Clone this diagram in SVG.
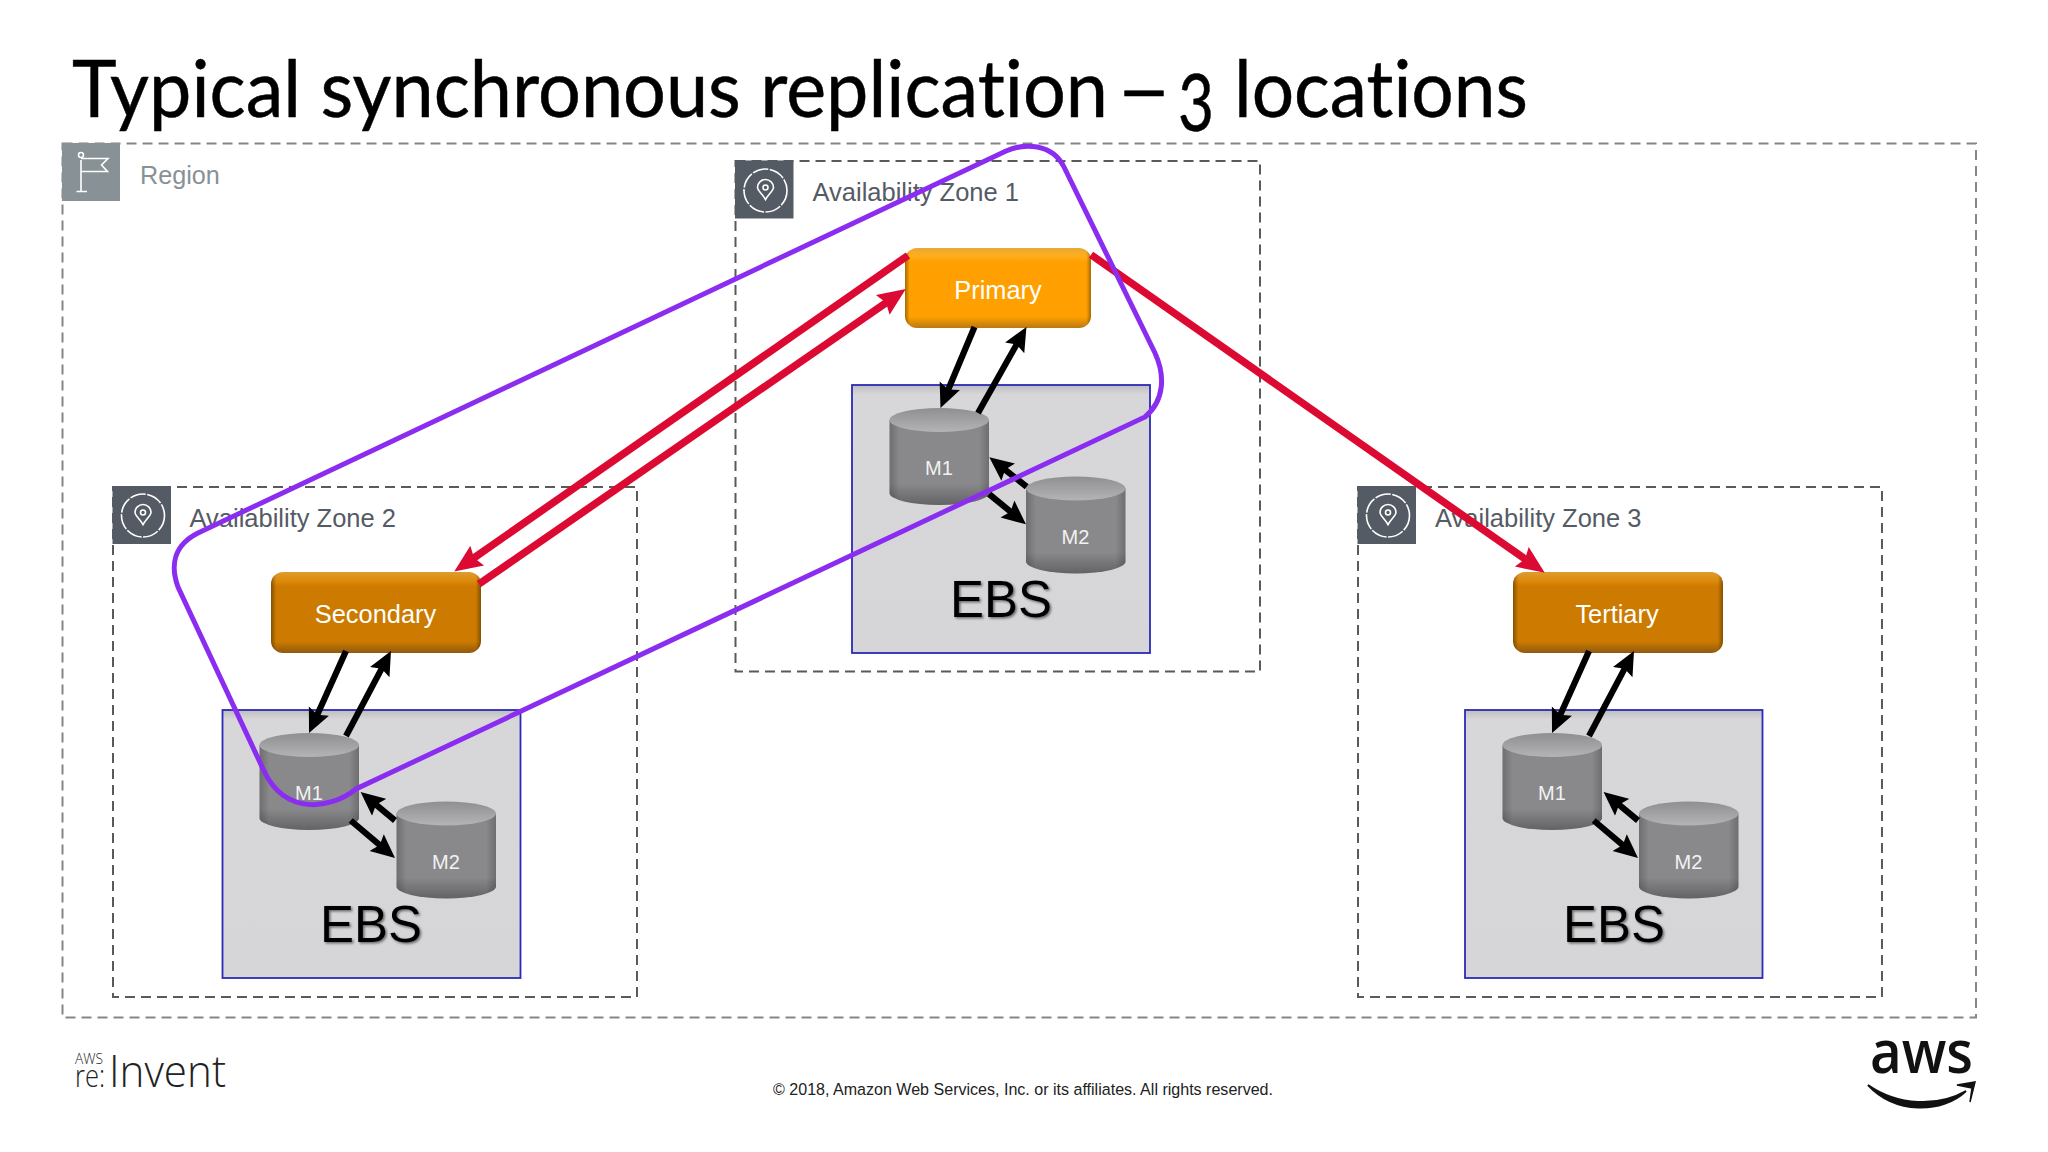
<svg xmlns="http://www.w3.org/2000/svg" xmlns:xlink="http://www.w3.org/1999/xlink" width="2048" height="1152" viewBox="0 0 2048 1152">
<style>
text{font-family:"Liberation Sans",Arial,sans-serif}
.title{font-family:Lato,"Open Sans",sans-serif;font-size:80px;fill:#000;stroke:#000;stroke-width:.5;font-variant-ligatures:none}
.region{fill:none;stroke:#868686;stroke-width:2;stroke-dasharray:10 6}
.zone{fill:none;stroke:#5a5a5a;stroke-width:2;stroke-dasharray:10 6}
.ico{fill:none;stroke:#fff;stroke-width:1.6}
.rlabel{font-size:25.2px;fill:#879196}
.zlabel{font-size:25.5px;fill:#555b64}
.btn{font-size:25.4px;fill:#fff;text-anchor:middle}
.m{font-size:20px;fill:#f2f2f2;text-anchor:middle}
.ebs{font-size:51px;fill:#000;text-anchor:middle;filter:url(#sh)}
.box{fill:url(#boxg);stroke:#2a2ab8;stroke-width:1.8}
.blk{fill:none;stroke:#000;stroke-width:6.2;marker-end:url(#ab)}
.red{fill:none;stroke:#dc0a32;stroke-width:7.5;marker-end:url(#ar)}
.loop{fill:none;stroke:#8a2df0;stroke-width:5}
.logo{font-family:"Open Sans",Lato,sans-serif;fill:#222;font-weight:300}
</style>
<defs>
<filter id="sh" x="-10%" y="-10%" width="125%" height="130%"><feDropShadow dx="1.5" dy="1.5" stdDeviation="1.2" flood-color="#444" flood-opacity=".75"/></filter>
<marker id="ab" markerUnits="userSpaceOnUse" markerWidth="26" markerHeight="24" refX="8" refY="12" orient="auto"><path d="M0 1L24 12L0 23L4 12Z" fill="#000"/></marker>
<marker id="ar" markerUnits="userSpaceOnUse" markerWidth="30" markerHeight="28" refX="10" refY="14" orient="auto"><path d="M0 2L28 14L0 26L4 14Z" fill="#dc0a32"/></marker>
<linearGradient id="boxg" x1="0" y1="0" x2="0" y2="1"><stop offset="0" stop-color="#bdbdbe"/><stop offset=".035" stop-color="#d7d7da"/><stop offset="1" stop-color="#d6d6d9"/></linearGradient>
<linearGradient id="cylb" x1="0" y1="0" x2="1" y2="0"><stop offset="0" stop-color="#6e6e70"/><stop offset=".1" stop-color="#89898c"/><stop offset=".9" stop-color="#89898c"/><stop offset="1" stop-color="#6e6e70"/></linearGradient>
<linearGradient id="cylt" x1="0" y1="0" x2="0" y2="1"><stop offset="0" stop-color="#8f8f91"/><stop offset="1" stop-color="#b4b4b6"/></linearGradient>
<linearGradient id="cyls" x1="0" y1="0" x2="0" y2="1"><stop offset=".75" stop-color="#000" stop-opacity="0"/><stop offset="1" stop-color="#000" stop-opacity=".28"/></linearGradient>
<linearGradient id="gp" x1="0" y1="0" x2="0" y2="1"><stop offset="0" stop-color="#e8a838"/><stop offset=".1" stop-color="#ffae1a"/><stop offset=".18" stop-color="#ffa000"/><stop offset=".86" stop-color="#ffa000"/><stop offset="1" stop-color="#b97a10"/></linearGradient>
<linearGradient id="gs" x1="0" y1="0" x2="0" y2="1"><stop offset="0" stop-color="#dc9c30"/><stop offset=".1" stop-color="#df8c0c"/><stop offset=".18" stop-color="#cc7a00"/><stop offset=".86" stop-color="#cc7a00"/><stop offset="1" stop-color="#8f5a10"/></linearGradient>
<linearGradient id="ge" x1="0" y1="0" x2="1" y2="0"><stop offset="0" stop-color="#000" stop-opacity=".35"/><stop offset=".025" stop-color="#000" stop-opacity="0"/><stop offset=".975" stop-color="#000" stop-opacity="0"/><stop offset="1" stop-color="#000" stop-opacity=".35"/></linearGradient>
<g id="cyl">
<path d="M0 12V85A49.75 12 0 0 0 99.5 85V12Z" fill="url(#cylb)"/>
<path d="M0 12V85A49.75 12 0 0 0 99.5 85V12Z" fill="url(#cyls)"/>
<ellipse cx="49.75" cy="12" rx="49.75" ry="12" fill="url(#cylt)"/>
</g>
<g id="pin" class="ico">
<circle r="21.500" stroke-dasharray="16 1.5"/>
<path d="M0 9C-3 3.500 -8 0 -8 -3A8 8 0 0 1 8 -3C8 0 3 3.500 0 9Z"/>
<circle cy="-3" r="2.500"/>
</g>
</defs>
<rect width="2048" height="1152" fill="#fff"/>
<text class="title"><tspan x="72" y="117" textLength="1036" lengthAdjust="spacingAndGlyphs">Typical synchronous replication</tspan><tspan x="1116" y="117" textLength="56" lengthAdjust="spacingAndGlyphs">–</tspan><tspan x="1178" y="131" textLength="36" lengthAdjust="spacingAndGlyphs">3</tspan><tspan x="1234" y="117" textLength="294" lengthAdjust="spacingAndGlyphs">locations</tspan></text>

<g id="region">
<rect class="region" x="62.500" y="143.500" width="1913.500" height="874"/>
<rect x="62" y="143" width="58" height="58" fill="#879196"/>
<g class="ico"><path d="M81 160V191M76.500 191.500H87M81 158.500H108L101.500 165L107.500 171.500H81"/><circle cx="81" cy="155" r="2.500"/></g>
<text class="rlabel" x="140" y="184">Region</text>
</g>

<g id="zone1">
<rect class="zone" x="735.500" y="161" width="524.500" height="510.500"/>
<rect x="735" y="160.500" width="58.500" height="58" fill="#555b64"/>
<use href="#pin" x="765.500" y="190.500"/>
<text class="zlabel" x="812.500" y="201">Availability Zone 1</text>
</g>
<g id="zone2">
<rect class="zone" x="113" y="487" width="524" height="510"/>
<rect x="112.500" y="486" width="58.500" height="58" fill="#555b64"/>
<use href="#pin" x="143" y="515.500"/>
<text class="zlabel" x="189.500" y="527">Availability Zone 2</text>
</g>
<g id="zone3">
<rect class="zone" x="1358" y="487" width="524" height="510"/>
<rect x="1357.500" y="486" width="58.500" height="58" fill="#555b64"/>
<use href="#pin" x="1388" y="515.500"/>
<text class="zlabel" x="1435" y="527">Availability Zone 3</text>
</g>

<g id="ebs1">
<rect class="box" x="852" y="385" width="298" height="268"/>
<text class="ebs" x="1001" y="616.500">EBS</text>
</g>
<g id="ebs2">
<rect class="box" x="222.500" y="710" width="298" height="268"/>
<text class="ebs" x="371" y="941.500">EBS</text>
</g>
<g id="ebs3">
<rect class="box" x="1465" y="710" width="297.500" height="268"/>
<text class="ebs" x="1614" y="941.500">EBS</text>
</g>

<g id="m1a"><use href="#cyl" x="889.500" y="408"/><text class="m" x="939" y="475">M1</text></g>
<g id="m2a"><use href="#cyl" x="1026" y="476.500"/><text class="m" x="1075.500" y="544">M2</text></g>
<g id="m1b"><use href="#cyl" x="259.500" y="733"/><text class="m" x="309" y="800">M1</text></g>
<g id="m2b"><use href="#cyl" x="396.500" y="801.500"/><text class="m" x="446" y="869">M2</text></g>
<g id="m1c"><use href="#cyl" x="1502.500" y="733"/><text class="m" x="1552" y="800">M1</text></g>
<g id="m2c"><use href="#cyl" x="1639" y="801.500"/><text class="m" x="1688.500" y="869">M2</text></g>

<g id="primary"><rect x="905" y="248" width="186" height="80" rx="12" fill="url(#gp)"/><rect x="905" y="248" width="186" height="80" rx="12" fill="url(#ge)"/><text class="btn" x="998" y="298.500">Primary</text></g>
<g id="secondary"><rect x="271" y="572" width="210" height="81" rx="12" fill="url(#gs)"/><rect x="271" y="572" width="210" height="81" rx="12" fill="url(#ge)"/><text class="btn" x="375.500" y="623">Secondary</text></g>
<g id="tertiary"><rect x="1513" y="572" width="210" height="81" rx="12" fill="url(#gs)"/><rect x="1513" y="572" width="210" height="81" rx="12" fill="url(#ge)"/><text class="btn" x="1617" y="623">Tertiary</text></g>

<g id="connectors">
<path class="blk" d="M974.500 327L946.700 393.200"/><path class="blk" d="M978 413L1018.600 340.900"/>
<path class="blk" d="M1026.700 486.700L1001.900 467.200"/><path class="blk" d="M989 494L1013.600 514.200"/>
<g id="conn2">
<path class="blk" d="M346 651L315.600 718.400"/><path class="blk" d="M346 736L383.500 665.100"/>
<path class="blk" d="M395 820.500L372.900 802.200"/><path class="blk" d="M350.700 820.500L382.800 847.700"/>
</g>
<g id="conn3" transform="translate(1243 0)">
<path class="blk" d="M346 651L315.600 718.400"/><path class="blk" d="M346 736L383.500 665.100"/>
<path class="blk" d="M395 820.500L372.900 802.200"/><path class="blk" d="M350.700 820.500L382.800 847.700"/>
</g>
<path class="red" d="M908 255.500L469 561.300"/>
<path class="red" d="M479 584L891 299.300"/>
<path class="red" d="M1091 254.800L1530 562.500"/>
</g>

<g id="highlight">
<path class="loop" d="M198 533L1006 151C1024 143 1052 143 1064 167L1155 353C1165 375 1165 400 1145 417L356 789C330 810 285 815 264 771L178 587C170 565 174 545 198 533Z"/>
</g>

<text x="773" y="1094.500" font-size="16.800" fill="#222" textLength="500" lengthAdjust="spacingAndGlyphs">© 2018, Amazon Web Services, Inc. or its affiliates. All rights reserved.</text>

<g id="reinvent">
<text class="logo" x="75" y="1064" font-size="15" font-weight="400" textLength="28" lengthAdjust="spacingAndGlyphs">AWS</text>
<text class="logo" x="75" y="1087" font-size="32" font-weight="400" textLength="30" lengthAdjust="spacingAndGlyphs">re:</text>
<text class="logo" x="109" y="1087" font-size="45" font-weight="400" textLength="117" lengthAdjust="spacingAndGlyphs">Invent</text>
</g>
<g id="awslogo">
<text x="1870" y="1073" font-size="60" fill="#111" font-weight="600" style="font-family:'Open Sans',Lato,sans-serif" textLength="103" lengthAdjust="spacingAndGlyphs">aws</text>
<path d="M1868 1085C1898 1106 1938 1107 1966 1091C1942 1114 1895 1114 1868 1085Z" fill="#111" stroke="#111" stroke-width="2"/>
<path d="M1957 1085L1975 1082L1970 1102L1972 1088Z" fill="#111" stroke="#111" stroke-width="1.500"/>
</g>
</svg>
